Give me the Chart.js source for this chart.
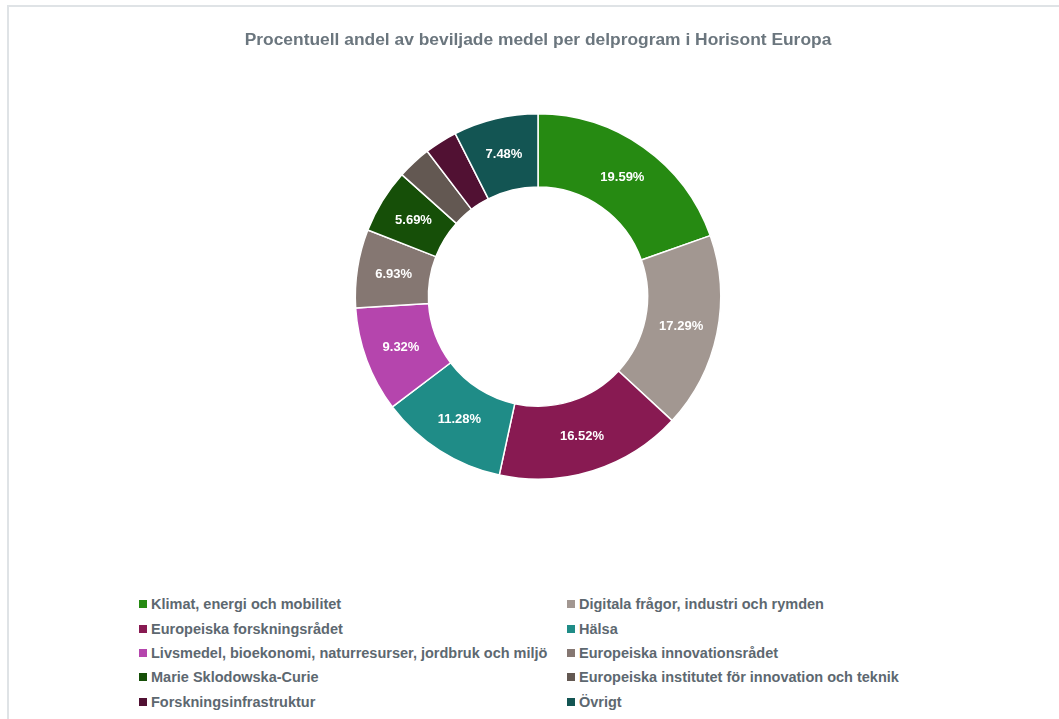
<!DOCTYPE html>
<html>
<head>
<meta charset="utf-8">
<script src="https://cdn.jsdelivr.net/npm/chart.js@4.4.1/dist/chart.umd.min.js"></script>
<style>
  body { margin: 0; background: #fff; width: 1059px; height: 719px; overflow: hidden; position: relative; }
  #frame { position: absolute; left: 7px; top: 5px; width: 1100px; height: 800px; border-left: 2px solid #dfe3e6; border-top: 2px solid #dfe3e6; }
  #chartBox { position: absolute; left: 0; top: 0; width: 1059px; height: 480px; }
  #legend { position: absolute; left: 139px; top: 592px; display: grid; grid-template-columns: 428px 400px; row-gap: 0; font-family: "Liberation Sans", Arial, sans-serif; font-weight: bold; font-size: 14.5px; color: #5d6870; }
  #legend .item { height: 24.4px; display: flex; align-items: center; white-space: nowrap; }
  #legend .box { width: 8px; height: 8px; margin-right: 4px; flex: none; }
</style>
</head>
<body>
<div id="frame"></div>
<div id="chartBox"><canvas id="donutChart"></canvas></div>
<div id="legend"></div>
<script>
const chartTitle = "Procentuell andel av beviljade medel per delprogram i Horisont Europa";

const programmes = [
  "Klimat, energi och mobilitet",
  "Digitala frågor, industri och rymden",
  "Europeiska forskningsrådet",
  "Hälsa",
  "Livsmedel, bioekonomi, naturresurser, jordbruk och miljö",
  "Europeiska innovationsrådet",
  "Marie Sklodowska-Curie",
  "Europeiska institutet för innovation och teknik",
  "Forskningsinfrastruktur",
  "Övrigt"
];

// share in percent; the two small slices have no printed label
const shares = [19.59, 17.29, 16.52, 11.28, 9.32, 6.93, 5.69, 3.01, 2.89, 7.48];
const showLabel = [true, true, true, true, true, true, true, false, false, true];

const sliceColors = [
  "#268a12", "#a29791", "#881a52", "#1f8c87", "#b545ad",
  "#857772", "#164f08", "#635852", "#511133", "#135553"
];

const fontFamily = '"Liberation Sans", Arial, sans-serif';

// draws the percentage inside each slice
const sliceLabels = {
  id: "sliceLabels",
  afterDatasetsDraw(chart) {
    const ctx = chart.ctx;
    const meta = chart.getDatasetMeta(0);
    ctx.save();
    ctx.font = "bold 13px " + fontFamily;
    ctx.fillStyle = "#ffffff";
    ctx.textAlign = "center";
    ctx.textBaseline = "middle";
    meta.data.forEach((arc, i) => {
      if (!showLabel[i]) return;
      const pos = arc.tooltipPosition();
      ctx.fillText(shares[i].toFixed(2) + "%", pos.x, pos.y);
    });
    ctx.restore();
  }
};

const ctx = document.getElementById("donutChart").getContext("2d");
new Chart(ctx, {
  type: "doughnut",
  data: {
    labels: programmes,
    datasets: [{
      data: shares,
      backgroundColor: sliceColors,
      borderColor: "#ffffff",
      borderWidth: 1.5,
      hoverOffset: 0
    }]
  },
  options: {
    responsive: true,
    maintainAspectRatio: false,
    animation: false,
    cutout: "60%",
    layout: { padding: { left: 17, right: 0, top: 0, bottom: 0 } },
    plugins: {
      title: {
        display: true,
        text: chartTitle,
        color: "#6b767e",
        font: { family: fontFamily, size: 17.4, weight: "bold" },
        padding: { top: 30, bottom: 62.2 }
      },
      legend: { display: false },
      tooltip: { enabled: false }
    }
  },
  plugins: [sliceLabels]
});

// two-column legend under the chart
const legendEl = document.getElementById("legend");
programmes.forEach((name, i) => {
  const item = document.createElement("div");
  item.className = "item";
  const box = document.createElement("span");
  box.className = "box";
  box.style.background = sliceColors[i];
  item.appendChild(box);
  item.appendChild(document.createTextNode(name));
  legendEl.appendChild(item);
});
</script>
</body>
</html>
